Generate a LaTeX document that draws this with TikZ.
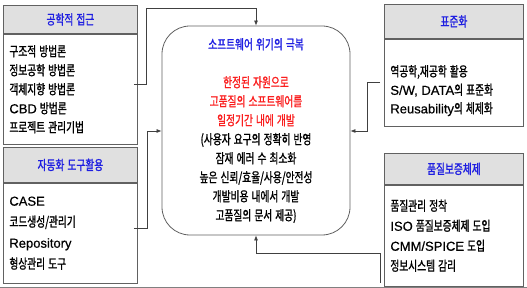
\documentclass[tikz,border=0pt]{standalone}
\usepackage{fontspec}
\setmainfont[FakeStretch=0.72, FakeBold=1.2, WordSpace={1.4,0,0}]{Noto Sans CJK KR}
\newfontfamily\en[FakeBold=0.6, WordSpace={1,0,0}]{Liberation Sans}
\usetikzlibrary{arrows.meta}

\definecolor{boxline}{gray}{0.38}
\definecolor{connline}{gray}{0.25}
\definecolor{headgray}{gray}{0.88}
\definecolor{hblue}{RGB}{30,30,225}
\definecolor{hred}{RGB}{250,30,30}
\newcommand{\lat}[1]{{\en\fontsize{13}{19}\selectfont #1}}

\tikzset{
    head/.style={draw=boxline, fill=headgray, line width=0.8pt, minimum width=134pt,
        anchor=north west, inner sep=0pt, text=hblue, font=\fontsize{13.5}{19}\selectfont},
    body/.style={draw=boxline, line width=0.8pt, minimum width=134pt, anchor=north west,
        align=flush left, text width=122pt, inner xsep=6pt, inner ysep=0pt,
        font=\fontsize{13.5}{#1}\selectfont, execute at begin node={\spaceskip=0pt\xspaceskip=0pt\relax}},
    body/.default=19,
    crisis/.style={draw=boxline, line width=0.8pt, rounded corners=28pt, minimum width=188pt,
        minimum height=209pt, align=center, inner sep=0pt, font=\fontsize{13.5}{19}\selectfont},
    conn/.style={draw=connline, line width=0.7pt, -{Latex[length=5pt,width=4pt]}},
}

\begin{document}
\begin{tikzpicture}[x=1pt, y=-1pt]
    \useasboundingbox (0,0) rectangle (527,288);
    \def\lx{3}    % left column
    \def\rx{384}  % right column

    % left boxes
    \node[head, minimum height=28pt] (gongH) at (\lx,5) {공학적 접근};
    \node[body, minimum height=110pt] (gong) at (gongH.south west) {구조적 방법론\\정보공학 방법론\\객체지향 방법론\\\lat{CBD} 방법론\\프로젝트 관리기법};
    \node[head, minimum height=35pt] (toolH) at (\lx,147) {자동화 도구활용};
    \node[body=21, minimum height=100pt] (tool) at (toolH.south west) {\lat{CASE}\\코드생성/관리기\\\lat{Repository}\\형상관리 도구};

    % right boxes
    \node[head, minimum width=139pt, minimum height=34pt] (stdH) at (\rx,4) {표준화};
    \node[body=18.5, minimum width=139pt, text width=127pt, minimum height=87pt] (std) at (stdH.south west) {\rule{0pt}{27pt}역공학,재공학 활용\\\lat{S/W, DATA}의 표준화\\\lat{Reusability}의 체제화};
    \node[head, minimum width=139pt, minimum height=31pt] (qaH) at (\rx,153) {품질보증체제};
    \node[body=20, minimum width=139pt, text width=127pt, minimum height=101pt] (qa) at (qaH.south west) {품질관리 정착\\\lat{ISO} 품질보증체제 도입\\\lat{CMM/SPICE} 도입\\정보시스템 감리};

    % centre
    \node[crisis] (crisis) at (256,130.5) {\textcolor{hblue}{소프트웨어 위기의 극복}\\[19pt]
        \textcolor{hred}{한정된 자원으로}\\\textcolor{hred}{고품질의 소프트웨어를}\\\textcolor{hred}{일정기간 내에 개발}\\
        (사용자 요구의 정확히 반영\\잠재 에러 수 최소화\\높은 신뢰/효율/사용/안전성\\개발비용 내에서 개발\\고품질의 문서 제공)};

    \coordinate (q4) at ([xshift=-4pt,yshift=4pt]qa.south west);

    \draw[conn] ([xshift=-4pt,yshift=5pt]gong.east) -| (146,8) -| (crisis.north);
    \draw[conn] ([xshift=-4pt,yshift=5pt]tool.east) -| (147,131) -- (crisis.west |- 0,131);
    \draw[conn] ([xshift=-4pt]std.west) -| (367,131) -- (crisis.east |- 0,131);
    \draw[conn] (q4) |- ([yshift=-18pt]crisis.south) -- (crisis.south);

    \draw[gray, line width=1pt] (0,287) -- (527,287);
\end{tikzpicture}
\end{document}
